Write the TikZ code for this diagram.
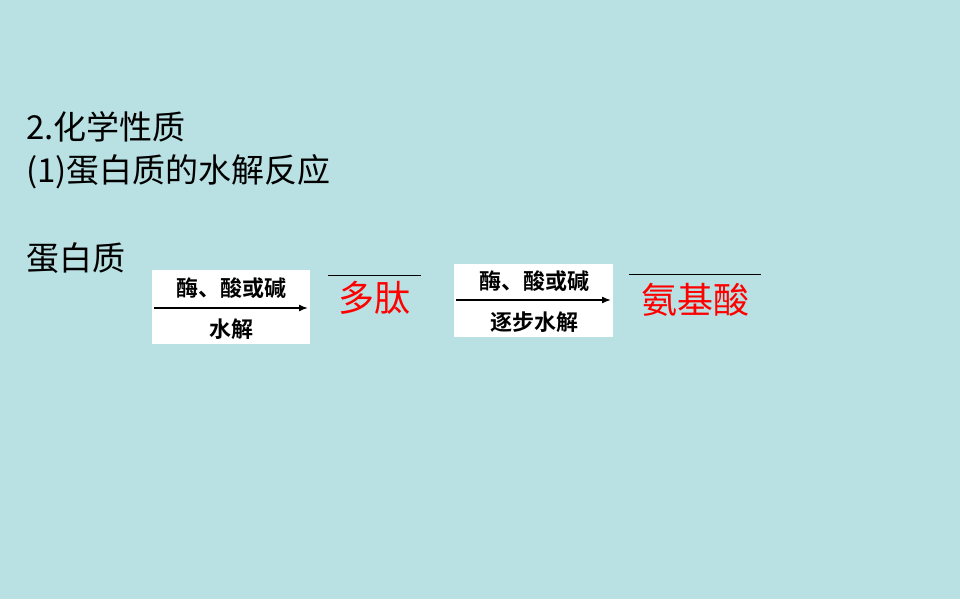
\documentclass[tikz,border=0pt]{standalone}
\usepackage{fontspec}
\usetikzlibrary{arrows.meta}
\newfontfamily\cjk{Noto Sans CJK SC}
\newfontfamily\cjkb{Noto Sans CJK SC Bold}
\definecolor{bgblue}{RGB}{185,224,226}
\begin{document}
\begin{tikzpicture}[x=1pt,y=-1pt,>=latex,
  txt/.style={font=\cjk\fontsize{33}{33}\selectfont,anchor=west,inner sep=0pt},
  cond/.style={font=\cjkb\fontsize{22}{22}\selectfont,inner sep=0pt},
  prod/.style={font=\cjk\fontsize{36}{36}\selectfont,text=red,inner sep=0pt}]
\fill[bgblue] (0,0) rectangle (960,599);
\useasboundingbox (0,0) rectangle (960,599);
\node[txt] (title) at (26,127) {2.化学性质};
\node[txt] (sub) at (26,172) {(1)蛋白质的水解反应};
\node[txt] (prot) at (26,258) {蛋白质};
% first step
\fill[white] (152,270) rectangle (310,344);
\coordinate (a1) at (154,308);
\coordinate (b1) at (308,308);
\draw[-{Latex[length=9pt,width=7pt]},line width=1.5pt] (a1) -- (b1);
\node[cond] (up1) at (231,288) {酶、酸或碱};
\node[cond] (dn1) at (231,329) {水解};
\coordinate (l1) at (328,275);
\coordinate (r1) at (421,275);
\draw (l1) -- (r1);
\node[prod] (pep) at (374,298) {多肽};
% second step
\fill[white] (454,264) rectangle (613,337);
\coordinate (a2) at (456,300);
\coordinate (b2) at (611,300);
\draw[-{Latex[length=9pt,width=7pt]},line width=1.5pt] (a2) -- (b2);
\node[cond] (up2) at (534,281) {酶、酸或碱};
\node[cond] (dn2) at (534,322) {逐步水解};
\coordinate (l2) at (629,274);
\coordinate (r2) at (761,274);
\draw (l2) -- (r2);
\node[prod] (amino) at (695,300) {氨基酸};
\end{tikzpicture}
\end{document}
